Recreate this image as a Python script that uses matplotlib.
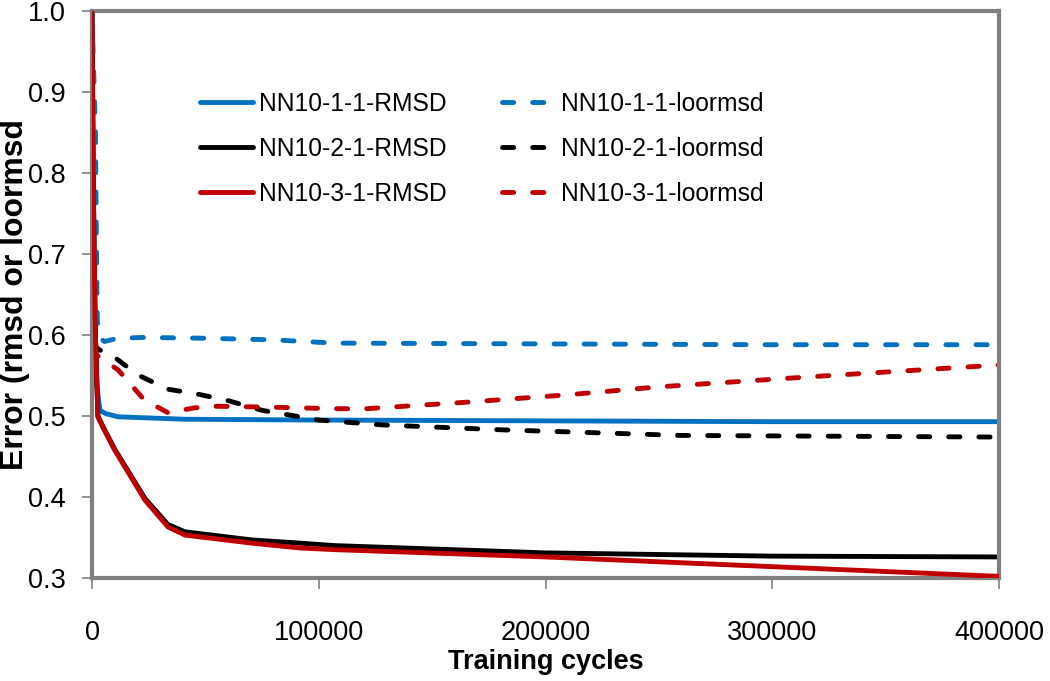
import matplotlib
matplotlib.use("Agg")
import matplotlib.pyplot as plt

plt.rcParams['font.family'] = ['Liberation Sans', 'DejaVu Sans']

# ---- data ----
x_blue_rmsd = [0, 1000, 2000, 3500, 6000, 11500, 41000, 100000, 200000, 300000, 400000]
y_blue_rmsd = [1.0, 0.66, 0.54, 0.507, 0.503, 0.499, 0.496, 0.495, 0.494, 0.493, 0.493]

x_black_rmsd = [0, 500, 1000, 1500, 2600, 5000, 10000, 23400, 33500, 41000, 70500, 92000,
                107000, 200000, 300000, 400000]
y_black_rmsd = [1.0, 0.80, 0.69, 0.60, 0.50, 0.486, 0.459, 0.398, 0.366, 0.357, 0.347, 0.343,
                0.340, 0.331, 0.327, 0.326]

x_red_rmsd = [0, 500, 1000, 1500, 2600, 5000, 10000, 23400, 33500, 41000, 70500, 92000,
              107000, 200000, 300000, 400000]
y_red_rmsd = [1.0, 0.80, 0.69, 0.60, 0.499, 0.485, 0.458, 0.396, 0.363, 0.353, 0.343, 0.337,
              0.335, 0.326, 0.314, 0.302]

x_blue_loo = [0, 1500, 2000, 2300, 3000, 5500, 11500, 23000, 50000, 80000, 107000, 200000,
              300000, 400000]
y_blue_loo = [1.0, 0.85, 0.70, 0.62, 0.597, 0.592, 0.596, 0.597, 0.596, 0.594, 0.590, 0.589,
              0.588, 0.588]

x_black_loo = [0, 3000, 8800, 20000, 33500, 45000, 60000, 75000, 100000, 128000, 180000,
               260000, 330000, 400000]
y_black_loo = [0.59, 0.582, 0.575, 0.551, 0.533, 0.528, 0.519, 0.507, 0.495, 0.489, 0.483,
               0.476, 0.475, 0.474]

x_red_loo = [0, 2000, 11500, 23000, 33500, 45000, 55000, 77000, 107000, 121000, 165000,
             209000, 250000, 320000, 400000]
y_red_loo = [0.585, 0.575, 0.557, 0.520, 0.504, 0.510, 0.512, 0.511, 0.509, 0.509, 0.517,
             0.526, 0.536, 0.549, 0.563]

labels = ['NN10-1-1-RMSD', 'NN10-2-1-RMSD', 'NN10-3-1-RMSD',
          'NN10-1-1-loormsd', 'NN10-2-1-loormsd', 'NN10-3-1-loormsd']
x_ticks = [0, 100000, 200000, 300000, 400000]
y_ticks = [0.3, 0.4, 0.5, 0.6, 0.7, 0.8, 0.9, 1.0]

BLUE, BLACK, RED = '#0070C0', '#000000', '#C00000'
GRAY = '#808080'

fig = plt.figure(figsize=(10.5, 6.81), dpi=100)
ax = fig.add_axes([92 / 1050, (681 - 578) / 681, 907 / 1050, 567 / 681])

lw = 3.5
dash = (2.3, 3.9)
h = []
h += ax.plot(x_blue_rmsd, y_blue_rmsd, color=BLUE, lw=lw, solid_capstyle='round', label=labels[0])
h += ax.plot(x_black_rmsd, y_black_rmsd, color=BLACK, lw=lw, solid_capstyle='round', label=labels[1])
h += ax.plot(x_red_rmsd, y_red_rmsd, color=RED, lw=lw, solid_capstyle='round', label=labels[2])
h += ax.plot(x_blue_loo, y_blue_loo, color=BLUE, lw=lw, linestyle=(0, dash),
             dash_capstyle='round', label=labels[3])
h += ax.plot(x_black_loo, y_black_loo, color=BLACK, lw=lw, linestyle=(0, dash),
             dash_capstyle='round', label=labels[4])
h += ax.plot(x_red_loo, y_red_loo, color=RED, lw=lw, linestyle=(0, dash),
             dash_capstyle='round', label=labels[5])
h[2].set_zorder(5)

ax.set_xlim(0, 400000)
ax.set_ylim(0.3, 1.0)
ax.set_xticks(x_ticks)
ax.set_xticklabels([str(v) for v in x_ticks])
ax.set_yticks(y_ticks)
ax.set_yticklabels([f'{v:.1f}' for v in y_ticks])

for s in ax.spines.values():
    s.set_color(GRAY)
    s.set_linewidth(3)

ax.tick_params(axis='y', direction='out', length=7, width=1.2, color=GRAY,
               labelsize=19.5, pad=12)
ax.tick_params(axis='x', direction='out', length=8, width=1.2, color=GRAY,
               labelsize=19.5, pad=22)

ax.set_xlabel('Training cycles', fontsize=19.5, fontweight='bold')
ax.xaxis.set_label_coords(0.5, -0.125)
ax.set_ylabel('Error (rmsd or loormsd', fontsize=23, fontweight='bold')
ax.yaxis.set_label_coords(-0.068, 0.5)

leg = ax.legend(handles=h, ncol=2, loc='upper left', bbox_to_anchor=(0.119, 0.857),
                frameon=False, fontsize=17.7, handlelength=2.15, handletextpad=0.25,
                columnspacing=2.25, labelspacing=0.85, borderpad=0, borderaxespad=0)

fig.savefig('out.png', dpi=100)
